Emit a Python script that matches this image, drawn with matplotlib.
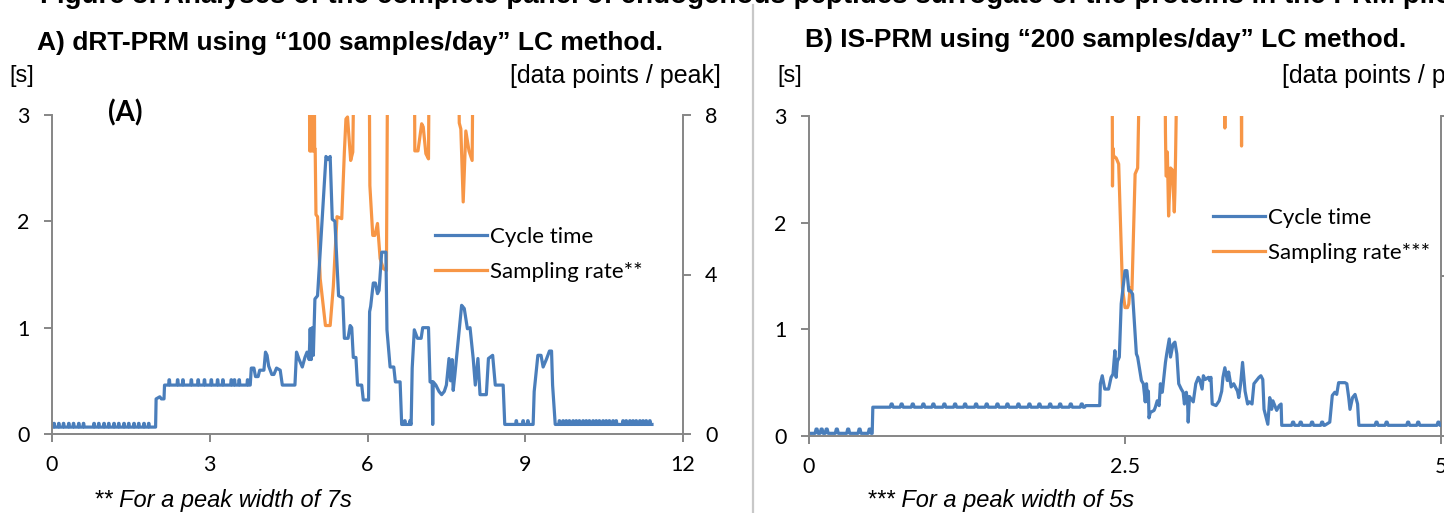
import matplotlib
matplotlib.use("Agg")
import matplotlib.pyplot as plt
from matplotlib.lines import Line2D

# ---------------- data ----------------
# Panel A: cycle time [s] vs retention time [min]
cycA_t = [0.00, 1.97, 1.98, 2.05, 2.08, 2.13, 2.14, 3.77, 3.79, 3.84, 3.87, 3.92, 3.95, 4.03,
          4.06, 4.09, 4.12, 4.18, 4.22, 4.27, 4.34, 4.38, 4.62, 4.65, 4.70, 4.76, 4.81, 4.85,
          4.89, 4.91, 4.93, 4.95, 4.97, 5.00, 5.05, 5.21, 5.25, 5.29, 5.33, 5.38, 5.45, 5.53,
          5.56, 5.63, 5.67, 5.70, 5.73, 5.78, 5.81, 5.89, 5.92, 6.02, 6.04, 6.06, 6.11, 6.15,
          6.19, 6.22, 6.27, 6.35, 6.37, 6.40, 6.43, 6.50, 6.53, 6.62, 6.65, 6.83, 6.85, 6.89,
          6.95, 7.02, 7.05, 7.16, 7.19, 7.23, 7.24, 7.25, 7.30, 7.36, 7.41, 7.46, 7.50, 7.55,
          7.58, 7.61, 7.63, 7.66, 7.79, 7.84, 7.90, 7.95, 8.01, 8.05, 8.10, 8.14, 8.26, 8.30,
          8.38, 8.43, 8.58, 8.61, 9.15, 9.17, 9.24, 9.30, 9.34, 9.40, 9.46, 9.50, 9.52, 9.57,
          11.41]
cycA_v = [0.065, 0.065, 0.33, 0.35, 0.33, 0.33, 0.46, 0.46, 0.62, 0.62, 0.54, 0.54, 0.60, 0.60,
          0.77, 0.74, 0.64, 0.56, 0.56, 0.62, 0.60, 0.46, 0.46, 0.77, 0.70, 0.63, 0.72, 0.77,
          0.70, 0.99, 0.70, 1.00, 0.74, 1.27, 1.30, 2.61, 2.58, 2.61, 2.02, 2.00, 1.30, 1.28,
          0.90, 0.90, 1.02, 1.00, 0.72, 0.72, 0.46, 0.46, 0.32, 0.32, 1.15, 1.20, 1.42, 1.42,
          1.32, 1.35, 1.71, 1.71, 0.98, 0.80, 0.63, 0.63, 0.49, 0.49, 0.09, 0.09, 0.62, 0.98,
          0.90, 0.90, 1.00, 1.00, 0.49, 0.49, 0.09, 0.49, 0.46, 0.40, 0.37, 0.40, 0.46, 0.71,
          0.50, 0.70, 0.41, 0.55, 1.21, 1.18, 0.99, 1.00, 0.71, 0.46, 0.71, 0.37, 0.37, 0.71,
          0.74, 0.46, 0.46, 0.09, 0.09, 0.40, 0.74, 0.74, 0.63, 0.70, 0.78, 0.78, 0.46, 0.09,
          0.09]
# small periodic bumps of the cycle time (positions, base, top)
bumpA1_t = [0.04, 0.13, 0.22, 0.32, 0.41, 0.51, 0.60, 0.80, 0.89, 0.99, 1.08, 1.18, 1.27,
            1.37, 1.46, 1.56, 1.65, 1.75, 1.84]
bumpA1_lv = (0.065, 0.10)
bumpA2_t = [2.23, 2.39, 2.49, 2.65, 2.78, 2.90, 3.03, 3.15, 3.25, 3.41, 3.47, 3.56, 3.72]
bumpA2_lv = (0.46, 0.51)
bumpA3_t = [6.71, 6.81, 8.83, 8.96, 9.05, 9.65, 9.72, 9.78, 9.84, 9.91, 9.97, 10.03, 10.10,
            10.16, 10.22, 10.29, 10.35, 10.41, 10.48, 10.54, 10.60, 10.67, 10.73, 10.86,
            10.92, 10.99, 11.05, 11.11, 11.18, 11.24, 11.30, 11.37]
bumpA3_lv = (0.09, 0.125)

# Panel A: sampling rate [data points / peak] (values above 8 are off the axis)
rateA_t = [4.895, 4.90, 4.905, 4.915, 4.925, 4.935, 4.945, 4.955, 4.965, 4.975, 4.985, 4.995,
           5.005, 5.02, 5.05, 5.10, 5.20, 5.29, 5.35, 5.42, 5.51, 5.56, 5.59, 5.62, 5.68,
           5.72, 5.75, 6.03, 6.045, 6.10, 6.14, 6.19, 6.24, 6.30, 6.36, 6.385, 6.89, 6.90,
           6.96, 7.03, 7.06, 7.11, 7.16, 7.175, 7.73, 7.745, 7.775, 7.82, 7.87, 7.93, 7.99,
           8.01, 8.60]
rateA_v = [10, 7.1, 10, 7.1, 10, 7.1, 10, 7.1, 10, 7.1, 10, 7.15,
           7.15, 5.5, 5.45, 3.9, 2.72, 2.72, 3.7, 5.45, 5.4, 7.07, 7.9, 7.95, 6.86,
           7.07, 10, 10, 6.23, 4.98, 4.98, 5.28, 4.4, 4.15, 4.1, 10, 10, 7.1,
           7.1, 7.78, 7.7, 7.03, 6.9, 10, 10, 7.8, 7.65, 5.82, 7.6, 7.1, 6.86,
           10, 10]

# Panel B: cycle time [s]
cycB_t = [0.00, 0.50, 0.505, 2.18, 2.19, 2.30, 2.305, 2.32, 2.34, 2.37, 2.39, 2.405, 2.42,
          2.43, 2.44, 2.455, 2.47, 2.50, 2.515, 2.53, 2.545, 2.56, 2.59, 2.60, 2.63, 2.645,
          2.66, 2.67, 2.68, 2.685, 2.69, 2.70, 2.73, 2.74, 2.755, 2.77, 2.78, 2.795, 2.82,
          2.83, 2.85, 2.86, 2.88, 2.895, 2.91, 2.925, 2.945, 2.96, 2.97, 2.985, 2.995, 3.00,
          3.01, 3.04, 3.06, 3.08, 3.09, 3.11, 3.12, 3.135, 3.16, 3.17, 3.18, 3.19, 3.22,
          3.245, 3.265, 3.275, 3.29, 3.31, 3.32, 3.34, 3.36, 3.39, 3.40, 3.415, 3.43, 3.44,
          3.45, 3.47, 3.485, 3.505, 3.52, 3.56, 3.575, 3.59, 3.60, 3.63, 3.645, 3.66, 3.67,
          3.70, 3.72, 3.735, 3.74, 4.08, 4.12, 4.14, 4.16, 4.175, 4.19, 4.24, 4.255, 4.27,
          4.28, 4.30, 4.32, 4.34, 4.35, 5.00]
cycB_v = [0.025, 0.025, 0.27, 0.27, 0.285, 0.285, 0.49, 0.565, 0.44, 0.44, 0.55, 0.58, 0.80,
          0.55, 0.70, 0.74, 1.24, 1.55, 1.55, 1.36, 1.36, 1.33, 0.77, 0.74, 0.52, 0.49,
          0.32, 0.49, 0.32, 0.42, 0.17, 0.22, 0.24, 0.27, 0.33, 0.285, 0.49, 0.41, 0.69,
          0.77, 0.91, 0.74, 0.86, 0.88, 0.77, 0.49, 0.44, 0.41, 0.30, 0.41, 0.32, 0.13,
          0.37, 0.32, 0.49, 0.55, 0.53, 0.44, 0.565, 0.53, 0.55, 0.52, 0.55, 0.30, 0.285,
          0.33, 0.42, 0.55, 0.64, 0.52, 0.60, 0.46, 0.49, 0.42, 0.36, 0.49, 0.69, 0.55,
          0.42, 0.30, 0.32, 0.30, 0.49, 0.55, 0.565, 0.53, 0.25, 0.11, 0.36, 0.25, 0.33,
          0.24, 0.285, 0.30, 0.10, 0.10, 0.13, 0.38, 0.41, 0.39, 0.50, 0.50, 0.49, 0.36,
          0.25, 0.36, 0.39, 0.30, 0.10, 0.10]
bumpB1_t = [0.06, 0.10, 0.14, 0.22, 0.31, 0.40, 0.48]
bumpB1_lv = (0.025, 0.065)
bumpB2_t = [0.654, 0.733, 0.821, 0.905, 0.984, 1.071, 1.156, 1.235, 1.322, 1.406, 1.491,
            1.570, 1.657, 1.744, 1.823, 1.908, 1.987, 2.071, 2.158]
bumpB2_lv = (0.27, 0.30)
bumpB3_t = [3.83, 3.89, 3.98, 4.06, 4.49, 4.57, 4.74, 4.82, 4.98]
bumpB3_lv = (0.10, 0.13)

# Panel B: sampling rate
rateB_t = [2.398, 2.401, 2.404, 2.41, 2.43, 2.45, 2.48, 2.50, 2.52, 2.53, 2.54, 2.555, 2.58,
           2.60, 2.62, 2.815, 2.82, 2.825, 2.83, 2.835, 2.845, 2.86, 2.875, 2.89, 2.895,
           2.90, 2.915, 3.285, 3.29, 3.295, 3.418, 3.422, 3.426, 3.75]
rateB_v = [10, 6.25, 7.2, 7.0, 6.95, 6.8, 3.7, 3.21, 3.21, 3.3, 3.71, 3.65, 6.55,
           6.7, 10, 10, 7.6, 6.5, 6.5, 7.1, 5.5, 6.7, 6.65, 5.6, 6.1,
           7.0, 10, 10, 7.7, 10, 10, 7.25, 10, 10]

xticksA = [0, 3, 6, 9, 12]
xticksB = [0, 2.5, 5]
xticklabelsB = ["0", "2.5", "5"]
yticks_left = [0, 1, 2, 3]
yticks_right = [0, 4, 8]

BLUE = "#4a7ebb"
ORANGE = "#f79646"
GRAY = "#868686"
TICKFONT = ["Lato", "DejaVu Sans"]
ARIAL = ["Liberation Sans", "DejaVu Sans"]
LW = 2.3


def with_bumps(ts, vs, groups):
    pts = list(zip(ts, vs))
    for pos, (base, top) in groups:
        for p in pos:
            pts += [(p - 0.012, base), (p - 0.004, top), (p + 0.004, top), (p + 0.012, base)]
    pts.sort(key=lambda q: q[0])
    return [q[0] for q in pts], [q[1] for q in pts]


W, H = 1444, 513
fig = plt.figure(figsize=(W / 100, H / 100), dpi=100)


def style(ax, axr, xticks, xlabels, xmax, right_labels=True):
    ax.set_xlim(0, xmax)
    ax.set_ylim(0, 3)
    axr.set_ylim(0, 8)
    ax.set_xticks(xticks)
    ax.set_xticklabels(xlabels)
    ax.set_yticks(yticks_left)
    axr.set_yticks(yticks_right)
    for a in (ax, axr):
        for s in a.spines.values():
            s.set_color(GRAY)
            s.set_linewidth(1.4)
        a.spines["top"].set_visible(False)
    ax.spines["right"].set_visible(False)
    axr.spines["left"].set_visible(False)
    axr.spines["bottom"].set_visible(False)
    ax.tick_params(axis="x", direction="out", length=6, width=1.4, color=GRAY, pad=9)
    ax.tick_params(axis="y", direction="out", length=6, width=1.4, color=GRAY, pad=10)
    axr.tick_params(axis="y", direction="out", length=6, width=1.4, color=GRAY, pad=10,
                    labelright=right_labels)
    for lab in ax.get_xticklabels() + ax.get_yticklabels() + axr.get_yticklabels():
        lab.set_fontfamily(TICKFONT)
        lab.set_fontsize(15.5)
    ax.set_zorder(axr.get_zorder() + 1)
    ax.patch.set_visible(False)


legend_kw = dict(loc="upper left", frameon=False, borderpad=0, borderaxespad=0,
                 handlelength=2.35, handletextpad=0.12, labelspacing=0.66,
                 prop={"family": TICKFONT, "size": 16})

# ---------- panel A ----------
axA = fig.add_axes([52 / W, 1 - 434 / H, (683 - 52) / W, (434 - 115) / H])
axAr = axA.twinx()
tA, vA = with_bumps(cycA_t, cycA_v, [(bumpA1_t, bumpA1_lv), (bumpA2_t, bumpA2_lv), (bumpA3_t, bumpA3_lv)])
lA1, = axA.plot(tA, vA, color=BLUE, lw=LW, label="Cycle time", solid_joinstyle="round")
lA2, = axAr.plot(rateA_t, rateA_v, color=ORANGE, lw=LW, label="Sampling rate**", solid_joinstyle="round")
style(axA, axAr, xticksA, [str(x) for x in xticksA], 12)
axA.legend([lA1, lA2], ["Cycle time", "Sampling rate**"],
           bbox_to_anchor=((435 - 52) / 631, (434 - 227) / 319), **legend_kw)

# ---------- panel B ----------
axB = fig.add_axes([809 / W, 1 - 436 / H, (1441 - 809) / W, (436 - 116) / H])
axBr = axB.twinx()
tB, vB = with_bumps(cycB_t, cycB_v, [(bumpB1_t, bumpB1_lv), (bumpB2_t, bumpB2_lv), (bumpB3_t, bumpB3_lv)])
lB1, = axB.plot(tB, vB, color=BLUE, lw=LW, label="Cycle time", solid_joinstyle="round")
lB2, = axBr.plot(rateB_t, rateB_v, color=ORANGE, lw=LW, label="Sampling rate***", solid_joinstyle="round")
style(axB, axBr, xticksB, xticklabelsB, 5, right_labels=False)
axB.legend([lB1, lB2], ["Cycle time", "Sampling rate***"],
           bbox_to_anchor=((1213 - 809) / 632, (436 - 208) / 320), **legend_kw)

# ---------- texts ----------
def ftext(x, y, s, **kw):
    fig.text(x / W, 1 - y / H, s, **kw)

ftext(40, 3, "Figure 3: Analyses of the complete panel of endogenous peptides surrogate of the "
      "proteins in the PRM pilot study", fontsize=20, fontweight="bold", family=ARIAL,
      va="baseline", ha="left")
ftext(37, 43, "A) dRT-PRM using \u201c100 samples/day\u201d LC method.", fontsize=19,
      fontweight="bold", family=ARIAL, va="center", ha="left")
ftext(805, 40, "B) IS-PRM using \u201c200 samples/day\u201d LC method.", fontsize=19,
      fontweight="bold", family=ARIAL, va="center", ha="left")
ftext(9, 76, "[s]", fontsize=17, family=ARIAL, va="center", ha="left")
ftext(721, 76, "[data points / peak]", fontsize=18, family=ARIAL, va="center", ha="right")
ftext(777, 76, "[s]", fontsize=17, family=ARIAL, va="center", ha="left")
ftext(1282, 76, "[data points / peak]", fontsize=18, family=ARIAL, va="center", ha="left")
ftext(108, 113, "(A)", fontsize=20, fontweight="bold", family=TICKFONT, va="center", ha="left")
ftext(94, 500, "** For a peak width of 7s", fontsize=17, style="italic", family=ARIAL,
      va="center", ha="left")
ftext(867, 500, "*** For a peak width of 5s", fontsize=17, style="italic", family=ARIAL,
      va="center", ha="left")

fig.add_artist(Line2D([753 / W, 753 / W], [0, 1 - 5 / H], color="#c8c8c8", lw=1.6))

fig.savefig("out.png", dpi=100)
